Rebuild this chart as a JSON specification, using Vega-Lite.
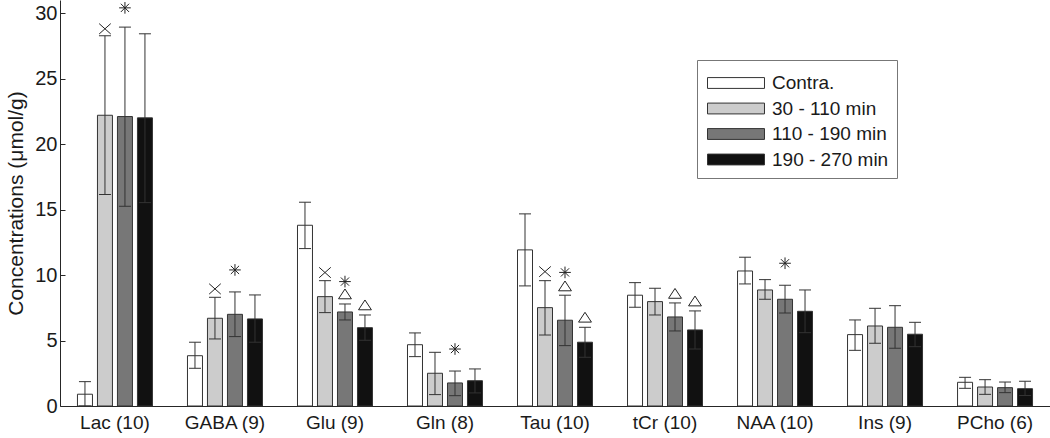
{
  "$schema": "https://vega.github.io/schema/vega-lite/v6.json",
  "width": 990,
  "height": 406,
  "autosize": {"type": "none"},
  "padding": {"left": 60, "top": 0, "right": 0, "bottom": 32},
  "background": "white",
  "config": {
    "view": {"stroke": null},
    "font": "Liberation Sans",
    "axis": {"domainColor": "#262626", "tickColor": "#262626", "labelColor": "#1a1a1a", "titleColor": "#1a1a1a", "labelFont": "Liberation Sans", "titleFont": "Liberation Sans", "titleFontWeight": "normal", "grid": false}
  },
  "datasets": {
    "bars": [
      {"group": "Lac (10)", "period": "Contra.", "mean": 0.9, "lo": 0, "hi": 1.86},
      {"group": "Lac (10)", "period": "30 - 110 min", "mean": 22.2, "lo": 16.15, "hi": 28.27},
      {"group": "Lac (10)", "period": "110 - 190 min", "mean": 22.1, "lo": 15.25, "hi": 28.93},
      {"group": "Lac (10)", "period": "190 - 270 min", "mean": 22.0, "lo": 15.53, "hi": 28.42},
      {"group": "GABA (9)", "period": "Contra.", "mean": 3.84, "lo": 2.88, "hi": 4.87},
      {"group": "GABA (9)", "period": "30 - 110 min", "mean": 6.7, "lo": 5.12, "hi": 8.3},
      {"group": "GABA (9)", "period": "110 - 190 min", "mean": 7.0, "lo": 5.3, "hi": 8.71},
      {"group": "GABA (9)", "period": "190 - 270 min", "mean": 6.65, "lo": 4.87, "hi": 8.48},
      {"group": "Glu (9)", "period": "Contra.", "mean": 13.8, "lo": 12.02, "hi": 15.56},
      {"group": "Glu (9)", "period": "30 - 110 min", "mean": 8.35, "lo": 7.13, "hi": 9.57},
      {"group": "Glu (9)", "period": "110 - 190 min", "mean": 7.18, "lo": 6.57, "hi": 7.79},
      {"group": "Glu (9)", "period": "190 - 270 min", "mean": 5.98, "lo": 5.02, "hi": 6.95},
      {"group": "Gln (8)", "period": "Contra.", "mean": 4.68, "lo": 3.77, "hi": 5.58},
      {"group": "Gln (8)", "period": "30 - 110 min", "mean": 2.5, "lo": 0.87, "hi": 4.1},
      {"group": "Gln (8)", "period": "110 - 190 min", "mean": 1.76, "lo": 0.79, "hi": 2.67},
      {"group": "Gln (8)", "period": "190 - 270 min", "mean": 1.93, "lo": 1.0, "hi": 2.83},
      {"group": "Tau (10)", "period": "Contra.", "mean": 11.92, "lo": 9.17, "hi": 14.67},
      {"group": "Tau (10)", "period": "30 - 110 min", "mean": 7.51, "lo": 5.42, "hi": 9.57},
      {"group": "Tau (10)", "period": "110 - 190 min", "mean": 6.55, "lo": 4.61, "hi": 8.46},
      {"group": "Tau (10)", "period": "190 - 270 min", "mean": 4.87, "lo": 3.72, "hi": 6.01},
      {"group": "tCr (10)", "period": "Contra.", "mean": 8.46, "lo": 7.54, "hi": 9.42},
      {"group": "tCr (10)", "period": "30 - 110 min", "mean": 7.97, "lo": 6.95, "hi": 8.99},
      {"group": "tCr (10)", "period": "110 - 190 min", "mean": 6.8, "lo": 5.73, "hi": 7.87},
      {"group": "tCr (10)", "period": "190 - 270 min", "mean": 5.81, "lo": 4.35, "hi": 7.26},
      {"group": "NAA (10)", "period": "Contra.", "mean": 10.31, "lo": 9.32, "hi": 11.36},
      {"group": "NAA (10)", "period": "30 - 110 min", "mean": 8.86, "lo": 8.15, "hi": 9.65},
      {"group": "NAA (10)", "period": "110 - 190 min", "mean": 8.15, "lo": 7.1, "hi": 9.22},
      {"group": "NAA (10)", "period": "190 - 270 min", "mean": 7.23, "lo": 5.6, "hi": 8.86},
      {"group": "Ins (9)", "period": "Contra.", "mean": 5.45, "lo": 4.25, "hi": 6.57},
      {"group": "Ins (9)", "period": "30 - 110 min", "mean": 6.11, "lo": 4.79, "hi": 7.46},
      {"group": "Ins (9)", "period": "110 - 190 min", "mean": 6.01, "lo": 4.41, "hi": 7.66},
      {"group": "Ins (9)", "period": "190 - 270 min", "mean": 5.48, "lo": 4.53, "hi": 6.39},
      {"group": "PCho (6)", "period": "Contra.", "mean": 1.81, "lo": 1.35, "hi": 2.19},
      {"group": "PCho (6)", "period": "30 - 110 min", "mean": 1.45, "lo": 0.89, "hi": 2.01},
      {"group": "PCho (6)", "period": "110 - 190 min", "mean": 1.4, "lo": 1.02, "hi": 1.83},
      {"group": "PCho (6)", "period": "190 - 270 min", "mean": 1.32, "lo": 0.8, "hi": 1.89}
    ],
    "marks": [
      {"group": "Lac (10)", "period": "30 - 110 min", "marker": "cross", "y": 28.8},
      {"group": "Lac (10)", "period": "110 - 190 min", "marker": "star", "y": 30.4},
      {"group": "GABA (9)", "period": "30 - 110 min", "marker": "cross", "y": 8.94},
      {"group": "GABA (9)", "period": "110 - 190 min", "marker": "star", "y": 10.39},
      {"group": "Glu (9)", "period": "30 - 110 min", "marker": "cross", "y": 10.19},
      {"group": "Glu (9)", "period": "110 - 190 min", "marker": "triangle", "y": 8.56},
      {"group": "Glu (9)", "period": "110 - 190 min", "marker": "star", "y": 9.5},
      {"group": "Glu (9)", "period": "190 - 270 min", "marker": "triangle", "y": 7.72},
      {"group": "Gln (8)", "period": "110 - 190 min", "marker": "star", "y": 4.35},
      {"group": "Tau (10)", "period": "30 - 110 min", "marker": "cross", "y": 10.26},
      {"group": "Tau (10)", "period": "110 - 190 min", "marker": "star", "y": 10.2},
      {"group": "Tau (10)", "period": "110 - 190 min", "marker": "triangle", "y": 9.17},
      {"group": "Tau (10)", "period": "190 - 270 min", "marker": "triangle", "y": 6.78},
      {"group": "tCr (10)", "period": "110 - 190 min", "marker": "triangle", "y": 8.6},
      {"group": "tCr (10)", "period": "190 - 270 min", "marker": "triangle", "y": 8.02},
      {"group": "NAA (10)", "period": "110 - 190 min", "marker": "star", "y": 10.9}
    ]
  },
  "encoding": {
    "x": {
      "field": "group", "type": "nominal",
      "sort": ["Lac (10)", "GABA (9)", "Glu (9)", "Gln (8)", "Tau (10)", "tCr (10)", "NAA (10)", "Ins (9)", "PCho (6)"],
      "scale": {"paddingInner": 0.273, "paddingOuter": 0.136},
      "axis": {"title": null, "labelAngle": 0, "ticks": false, "labelFontSize": 19, "labelPadding": 7, "domainWidth": 1}
    },
    "xOffset": {
      "field": "period", "type": "nominal",
      "sort": ["Contra.", "30 - 110 min", "110 - 190 min", "190 - 270 min"],
      "scale": {"paddingInner": 0.25, "paddingOuter": 0.125}
    }
  },
  "layer": [
    {
      "data": {"name": "bars"},
      "mark": {"type": "bar", "stroke": "#333333", "strokeWidth": 1},
      "encoding": {
        "y": {
          "field": "mean", "type": "quantitative", "title": "Concentrations (μmol/g)",
          "scale": {"domain": [0, 31], "nice": false},
          "axis": {"values": [0, 5, 10, 15, 20, 25, 30], "tickSize": -5, "labelFontSize": 20, "titleFontSize": 21, "labelPadding": 8, "titlePadding": 8}
        },
        "fill": {
          "field": "period", "type": "nominal",
          "sort": ["Contra.", "30 - 110 min", "110 - 190 min", "190 - 270 min"],
          "scale": {"domain": ["Contra.", "30 - 110 min", "110 - 190 min", "190 - 270 min"], "range": ["#ffffff", "#cccccc", "#777777", "#111111"]},
          "legend": {
            "orient": "none", "legendX": 637, "legendY": 60, "title": null,
            "symbolType": "M-2,-0.38L2,-0.38L2,0.38L-2,0.38Z", "symbolSize": 812,
            "symbolStrokeColor": "#333333", "symbolStrokeWidth": 1, "symbolOffset": 16,
            "labelFontSize": 19, "labelColor": "#1a1a1a", "labelOffset": 21,
            "strokeColor": "#777777", "fillColor": "white", "padding": 8,
            "rowPadding": 0.5
          }
        }
      }
    },
    {
      "data": {"name": "bars"},
      "mark": {"type": "rule", "color": "#333333", "strokeWidth": 1},
      "encoding": {
        "y": {"field": "lo", "type": "quantitative", "title": "Concentrations (μmol/g)"},
        "y2": {"field": "hi"}
      }
    },
    {
      "data": {"name": "bars"},
      "mark": {"type": "tick", "color": "#333333", "size": 12, "thickness": 1, "opacity": 1},
      "encoding": {
        "y": {"field": "lo", "type": "quantitative", "title": "Concentrations (μmol/g)"}
      }
    },
    {
      "data": {"name": "bars"},
      "mark": {"type": "tick", "color": "#333333", "size": 12, "thickness": 1, "opacity": 1},
      "encoding": {
        "y": {"field": "hi", "type": "quantitative", "title": "Concentrations (μmol/g)"}
      }
    },
    {
      "data": {"name": "marks"},
      "mark": {"type": "point", "filled": false, "stroke": "#222222", "strokeWidth": 1, "size": 150, "opacity": 1},
      "encoding": {
        "y": {"field": "y", "type": "quantitative", "title": "Concentrations (μmol/g)"},
        "shape": {
          "field": "marker", "type": "nominal", "legend": null,
          "scale": {"domain": ["cross", "star", "triangle"], "range": ["M-0.95,-0.85L0.95,0.85M-0.95,0.85L0.95,-0.85", "M-0.95,0L0.95,0M0,-0.95L0,0.95M-0.67,-0.67L0.67,0.67M-0.67,0.67L0.67,-0.67", "M0,-0.8L1.05,0.8L-1.05,0.8Z"]}
        }
      }
    }
  ]
}
